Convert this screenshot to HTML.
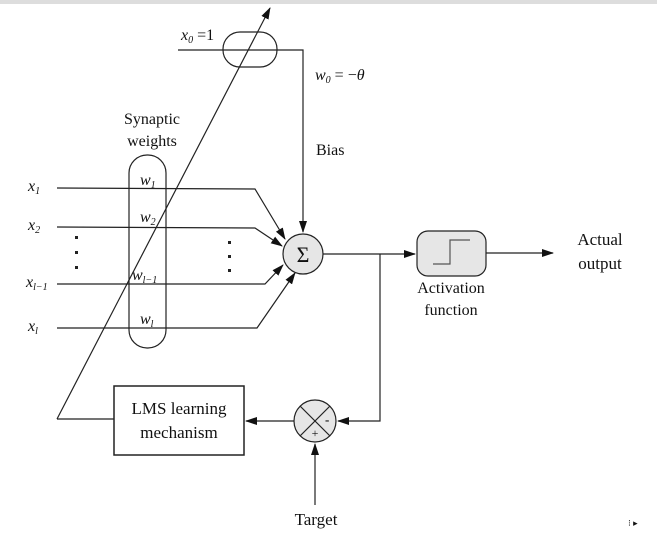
<!DOCTYPE html><html><head><style>body{margin:0;background:#fff}svg{display:block}text{font-family:"Liberation Serif",serif;fill:#111}</style></head><body>
<svg width="657" height="534" viewBox="0 0 657 534">
<defs><marker id="a" markerWidth="12" markerHeight="8" refX="11" refY="4" orient="auto" markerUnits="userSpaceOnUse"><path d="M0,0L12,4L0,8z" fill="#111"/></marker></defs>
<rect x="0" y="0" width="657" height="4" fill="#ddd"/>
<g stroke="#222" stroke-width="1.2" fill="none">
<line x1="57" y1="419" x2="270" y2="8" marker-end="url(#a)"/>
<rect x="223" y="32" width="54" height="35" rx="17"/>
<polyline points="178,50 303,50 303,232" marker-end="url(#a)"/>
<rect x="129" y="155" width="37" height="193" rx="18"/>
<polyline points="57,188 255,189 285,239" marker-end="url(#a)"/>
<polyline points="57,227 255,228 282,246" marker-end="url(#a)"/>
<polyline points="57,284 265,284 283,265" marker-end="url(#a)"/>
<polyline points="57,328 257,328 295,273" marker-end="url(#a)"/>
<circle cx="303" cy="254" r="20" fill="#e6e6e6"/>
<line x1="323" y1="254" x2="415" y2="254" marker-end="url(#a)"/>
<rect x="417" y="231" width="69" height="45" rx="11" fill="#e6e6e6"/>
<polyline points="433,264 450,264 450,240 470,240" stroke="#555"/>
<line x1="486" y1="253" x2="553" y2="253" marker-end="url(#a)"/>
<polyline points="380,254 380,421 338,421" marker-end="url(#a)"/>
<circle cx="315" cy="421" r="21" fill="#e6e6e6"/>
<line x1="300" y1="406" x2="330" y2="436"/><line x1="330" y1="406" x2="300" y2="436"/>
<line x1="294" y1="421" x2="246" y2="421" marker-end="url(#a)"/>
<rect x="114" y="386" width="130" height="69" stroke-width="1.5"/>
<line x1="57" y1="419" x2="114" y2="419"/>
<line x1="315" y1="505" x2="315" y2="444" marker-end="url(#a)"/>
</g>
<g fill="#222"><rect x="75" y="236" width="3" height="3"/><rect x="75" y="251" width="3" height="3"/><rect x="75" y="266" width="3" height="3"/><rect x="228" y="241" width="3" height="3"/><rect x="228" y="255" width="3" height="3"/><rect x="228" y="269" width="3" height="3"/></g>
<text x="303" y="262" font-size="22" text-anchor="middle">Σ</text>
<text x="181" y="40" font-size="16" font-style="italic">x<tspan font-size="10" dy="3">0</tspan><tspan dy="-3" font-style="normal"> =1</tspan></text>
<text x="315" y="80" font-size="16" font-style="italic">w<tspan font-size="10" dy="3">0</tspan><tspan dy="-3" font-style="normal"> = −</tspan>θ</text>
<text x="152" y="124" font-size="16" text-anchor="middle">Synaptic</text>
<text x="152" y="146" font-size="16" text-anchor="middle">weights</text>
<text x="316" y="155" font-size="16">Bias</text>
<g font-size="16" font-style="italic">
<text x="28" y="191">x<tspan font-size="10" dy="3">1</tspan></text>
<text x="28" y="230">x<tspan font-size="10" dy="3">2</tspan></text>
<text x="26" y="287">x<tspan font-size="10" dy="3">l−1</tspan></text>
<text x="28" y="331">x<tspan font-size="10" dy="3">l</tspan></text>
<text x="140" y="185">w<tspan font-size="10" dy="3">1</tspan></text>
<text x="140" y="222">w<tspan font-size="10" dy="3">2</tspan></text>
<text x="132" y="280">w<tspan font-size="10" dy="3">l−1</tspan></text>
<text x="140" y="324">w<tspan font-size="10" dy="3">l</tspan></text>
</g>
<text x="451" y="293" font-size="16" text-anchor="middle">Activation</text>
<text x="451" y="315" font-size="16" text-anchor="middle">function</text>
<text x="600" y="245" font-size="17" text-anchor="middle">Actual</text>
<text x="600" y="269" font-size="17" text-anchor="middle">output</text>
<text x="179" y="414" font-size="17" text-anchor="middle">LMS learning</text>
<text x="179" y="438" font-size="17" text-anchor="middle">mechanism</text>
<text x="325" y="424" font-size="13" font-weight="bold">-</text>
<text x="315" y="437" font-size="12" text-anchor="middle">+</text>
<text x="316" y="525" font-size="17" text-anchor="middle">Target</text>
<text x="628" y="526" font-size="9" fill="#bbb">⁝ ▸</text>
</svg></body></html>
